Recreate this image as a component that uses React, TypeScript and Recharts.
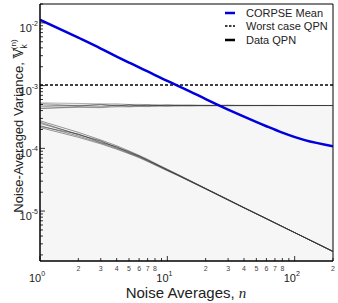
import React from 'react'
import {
  LineChart, Line, XAxis, YAxis, ReferenceLine, ReferenceArea, Label,
} from 'recharts'

// noise averages n (x positions of samples)
const nValues = [1, 2, 3, 4, 5, 6, 7, 8, 10, 12, 15, 20, 30, 40, 60, 80, 120, 200]

const corpseMean = [
  1.12e-2, 5.8e-3, 3.9e-3, 2.9e-3, 2.33e-3, 1.95e-3, 1.68e-3, 1.47e-3, 1.19e-3,
  1.0e-3, 8.1e-4, 6.1e-4, 4.15e-4, 3.2e-4, 2.25e-4, 1.78e-4, 1.35e-4, 1.08e-4,
]

const worstCaseQPN = 1.02e-3

// flat QPN traces, units of 1e-4
const qpnFlat1 = [5.3, 5.2, 5.1, 5.12, 5.0, 5.02, 4.98, 4.95, 4.9, 4.92, 4.88, 4.85, 4.86, 4.84, 4.84, 4.83, 4.83, 4.82]
const qpnFlat2 = [4.35, 4.5, 4.45, 4.6, 4.58, 4.66, 4.62, 4.7, 4.7, 4.73, 4.75, 4.77, 4.78, 4.79, 4.8, 4.8, 4.81, 4.81]
const qpnFlat3 = [4.9, 4.7, 4.98, 4.8, 4.9, 4.76, 4.85, 4.8, 4.88, 4.81, 4.84, 4.8, 4.83, 4.81, 4.82, 4.82, 4.82, 4.82]
const qpnFlat4 = [4.6, 4.88, 4.7, 4.93, 4.75, 4.9, 4.8, 4.87, 4.78, 4.85, 4.8, 4.84, 4.81, 4.83, 4.81, 4.82, 4.81, 4.82]
const qpnFlat5 = [5.15, 4.8, 5.05, 4.72, 4.98, 4.8, 4.93, 4.76, 4.9, 4.8, 4.87, 4.81, 4.85, 4.81, 4.83, 4.82, 4.82, 4.81]
const qpnFlat6 = [4.3, 4.62, 4.55, 4.8, 4.66, 4.76, 4.7, 4.8, 4.75, 4.8, 4.78, 4.82, 4.8, 4.82, 4.81, 4.82, 4.81, 4.82]

// decaying QPN traces, units of 1e-5
const qpnDecay1 = [27.5, 18, 13.6, 11, 9.1, 7.75, 6.7, 5.82, 4.64, 3.87, 3.09, 2.3, 1.53, 1.14, 0.76, 0.569, 0.379, 0.228]
const qpnDecay2 = [21.5, 15, 11.8, 9.7, 8.2, 7.1, 6.15, 5.42, 4.38, 3.7, 2.98, 2.24, 1.49, 1.12, 0.752, 0.565, 0.377, 0.226]
const qpnDecay3 = [25, 16.8, 12.9, 10.5, 8.75, 7.5, 6.5, 5.68, 4.55, 3.8, 3.04, 2.28, 1.52, 1.13, 0.757, 0.567, 0.378, 0.227]
const qpnDecay4 = [23, 15.7, 12.2, 10.0, 8.4, 7.25, 6.3, 5.52, 4.45, 3.75, 3.01, 2.26, 1.5, 1.125, 0.754, 0.566, 0.378, 0.227]
const qpnDecay5 = [26.2, 16.4, 13.2, 10.2, 8.9, 7.4, 6.55, 5.6, 4.6, 3.78, 3.05, 2.27, 1.515, 1.13, 0.756, 0.567, 0.378, 0.227]
const qpnDecay6 = [22.3, 16.9, 12.4, 10.6, 8.5, 7.6, 6.35, 5.72, 4.48, 3.82, 3.02, 2.29, 1.51, 1.135, 0.757, 0.568, 0.378, 0.227]

const flatTraces = [qpnFlat1, qpnFlat2, qpnFlat3, qpnFlat4, qpnFlat5, qpnFlat6]
const decayTraces = [qpnDecay1, qpnDecay2, qpnDecay3, qpnDecay4, qpnDecay5, qpnDecay6]

const xTicks = [1, 2, 3, 4, 5, 6, 7, 8, 9, 10, 20, 30, 40, 50, 60, 70, 80, 90, 100, 200]
const xLabeledMinor = [2, 3, 4, 5, 6, 7, 8, 20, 30, 40, 50, 60, 70, 80, 200]
const yDecades = [-6, -5, -4, -3, -2]
const yDomain = [1.6e-6, 2e-2]
const shadeTop = 4.8e-4

const yTicks = yDecades
  .flatMap(e => [1, 2, 3, 4, 5, 6, 7, 8, 9].map(m => m * Math.pow(10, e)))
  .filter(v => v >= yDomain[0] && v <= yDomain[1])

const data = nValues.map((n, i) => {
  const row: Record<string, number> = { n, corpse: corpseMean[i] }
  flatTraces.forEach((t, k) => { row[`f${k}`] = t[i] * 1e-4 })
  decayTraces.forEach((t, k) => { row[`d${k}`] = t[i] * 1e-5 })
  return row
})

const font = '"Liberation Sans", Arial, sans-serif'

const isDecade = (v: number) => Math.abs(Math.log10(v) - Math.round(Math.log10(v))) < 1e-6

function XTick({ x, y, payload }: any) {
  const v = payload.value
  const major = isDecade(v)
  return (
    <g>
      <line x1={x} y1={y} x2={x} y2={y - (major ? 5 : 3)} stroke="#000" strokeWidth={0.8} />
      {major ? (
        <text x={x - 11} y={y + 21} fontSize={11} fontFamily={font} fill="#222">
          10<tspan dy={-6} fontSize={7}>{Math.round(Math.log10(v))}</tspan>
        </text>
      ) : xLabeledMinor.includes(v) ? (
        <text x={x} y={y + 10} textAnchor="middle" fontSize={7} fontFamily={font} fill="#444">
          {String(v)[0]}
        </text>
      ) : null}
    </g>
  )
}

function YTick({ x, y, payload }: any) {
  const v = payload.value
  const major = isDecade(v)
  return (
    <g>
      <line x1={x} y1={y} x2={x + (major ? 5 : 3)} y2={y} stroke="#000" strokeWidth={0.8} />
      {major && (
        <text x={x - 2} y={y + 9} textAnchor="end" fontSize={11} fontFamily={font} fill="#222">
          10<tspan dy={-6} fontSize={7}>{Math.round(Math.log10(v))}</tspan>
        </text>
      )}
    </g>
  )
}

function YTitle() {
  return (
    <text transform="translate(23,126) rotate(-90)" textAnchor="middle" fontSize={13} fontFamily={font} fill="#222">
      Noise-Averaged Variance,{' '}
      <tspan fontFamily="DejaVu Serif, serif">{'\u{1D54D}'}</tspan>
      <tspan fontSize={8.5} dy={4}>k</tspan>
      <tspan fontSize={8} dy={-11} dx={-5}>(n)</tspan>
    </text>
  )
}

function XTitle() {
  return (
    <text x={186} y={298} textAnchor="middle" fontSize={15} fontFamily={font} fill="#222">
      Noise Averages, <tspan fontStyle="italic" fontFamily="Liberation Serif, serif">n</tspan>
    </text>
  )
}

function LegendBox() {
  const row = (label: string, line: React.ReactNode, top: number) => (
    <div style={{ position: 'absolute', left: 224, top, height: 14, display: 'flex', alignItems: 'center', fontFamily: font, fontSize: 11, color: '#222', whiteSpace: 'nowrap' }}>
      <svg width={22} height={14}>{line}</svg>
      {label}
    </div>
  )
  return (
    <>
      {row('CORPSE Mean', <line x1={1} y1={7} x2={11} y2={7} stroke="#0000dd" strokeWidth={2.5} />, 6)}
      {row('Worst case QPN', <line x1={1} y1={7} x2={11} y2={7} stroke="#000" strokeWidth={1.5} strokeDasharray="2.5 1.5" />, 19)}
      {row('Data QPN', <line x1={1} y1={7} x2={11} y2={7} stroke="#000" strokeWidth={2.5} />, 33)}
    </>
  )
}

export default function App() {
  return (
    <div style={{ position: 'absolute', left: 0, top: 0, width: 338, height: 303, background: '#fff' }}>
      <LineChart width={338} height={303} data={data} margin={{ top: 4, right: 5, left: 0, bottom: 0 }}>
        <XAxis
          dataKey="n" type="number" scale="log" domain={[1, 200]} allowDataOverflow
          ticks={xTicks} interval={0} tick={<XTick />} tickLine={false} tickSize={0} tickMargin={0}
          height={42} axisLine={{ stroke: '#000', strokeWidth: 1.5 }}
        >
          <Label content={<XTitle />} />
        </XAxis>
        <YAxis
          type="number" scale="log" domain={yDomain} allowDataOverflow
          ticks={yTicks} interval={0} tick={<YTick />} tickLine={false} tickSize={0} tickMargin={0}
          width={40} axisLine={{ stroke: '#000', strokeWidth: 1.5 }}
        >
          <Label content={<YTitle />} />
        </YAxis>
        <ReferenceArea x1={1} x2={200} y1={yDomain[0]} y2={shadeTop} fill="#f6f6f6" fillOpacity={1} stroke="none" />
        <ReferenceLine x={200} stroke="#000" strokeWidth={1} />
        <ReferenceLine y={yDomain[1]} stroke="#000" strokeWidth={1} />
        <ReferenceLine y={worstCaseQPN} stroke="#000" strokeWidth={1.6} strokeDasharray="3 2" />
        {flatTraces.map((_, k) => (
          <Line key={`f${k}`} dataKey={`f${k}`} type="linear" stroke="#333" strokeOpacity={0.45} strokeWidth={0.9} dot={false} isAnimationActive={false} />
        ))}
        {decayTraces.map((_, k) => (
          <Line key={`d${k}`} dataKey={`d${k}`} type="linear" stroke="#333" strokeOpacity={0.5} strokeWidth={1} dot={false} isAnimationActive={false} />
        ))}
        <Line dataKey="corpse" type="monotone" stroke="#0000dd" strokeWidth={2.5} dot={false} isAnimationActive={false} />
      </LineChart>
      <LegendBox />
    </div>
  )
}
